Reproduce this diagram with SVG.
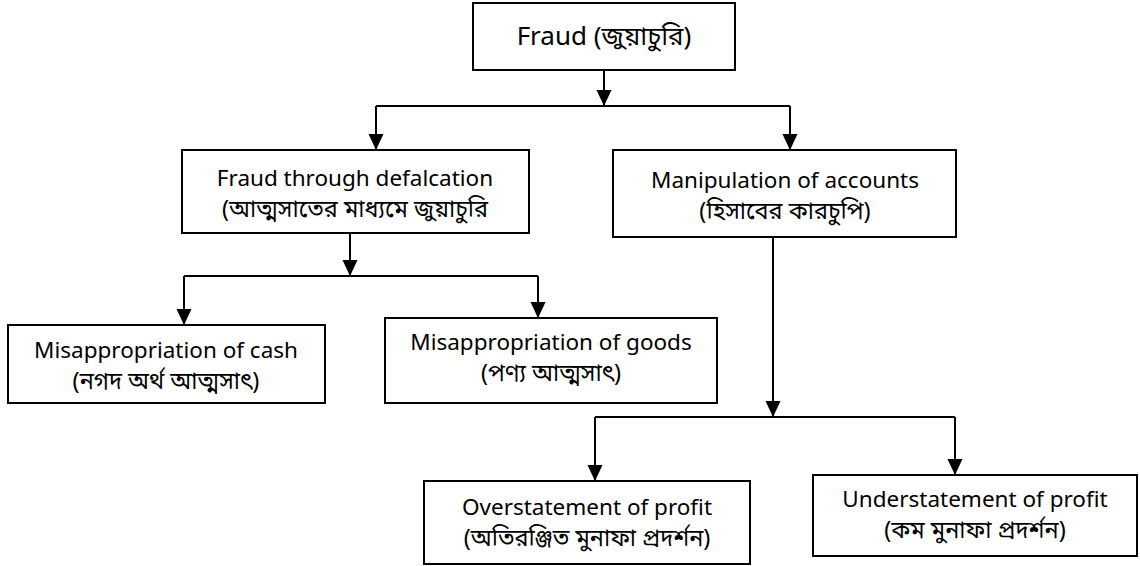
<svg xmlns="http://www.w3.org/2000/svg" width="1140" height="566" viewBox="0 0 1140 566">
<style>
.box{fill:#fff;stroke:#000;stroke-width:2}
.t{font-family:"Noto Sans","Noto Sans Bengali","Noto Serif Bengali","Lohit Bengali","FreeSans",sans-serif;font-size:22.5px;fill:#000;text-anchor:middle}
.bn{font-size:23.5px}
.big{font-size:26px}
.ln{fill:none;stroke:#000;stroke-width:2}
.arr{marker-end:url(#ah)}
</style>
<defs>
<marker id="ah" markerUnits="userSpaceOnUse" markerWidth="16" markerHeight="16" viewBox="0 0 17 16" refX="17" refY="8" orient="auto">
<path d="M0,0 L17,8 L0,16 Z" fill="#000"/>
</marker>
</defs>
<g id="connectors">
<path class="ln arr" d="M604,70 V106"/>
<path class="ln" d="M376,106 H790"/>
<path class="ln arr" d="M376,106 V150"/>
<path class="ln arr" d="M790,106 V150"/>
<path class="ln arr" d="M350,233 V276"/>
<path class="ln" d="M184,276 H538"/>
<path class="ln arr" d="M184,276 V325"/>
<path class="ln arr" d="M538,276 V318"/>
<path class="ln arr" d="M773,237 V417"/>
<path class="ln" d="M595,417 H955"/>
<path class="ln arr" d="M595,417 V481"/>
<path class="ln arr" d="M955,417 V475"/>
</g>
<g id="n-fraud">
<rect class="box" x="473" y="3" width="262" height="67"/>
<text class="t big" x="604" y="45">Fraud (জুয়াচুরি)</text>
</g>
<g id="n-defalcation">
<rect class="box" x="182" y="150" width="347" height="83"/>
<text class="t" x="355" y="186">Fraud through defalcation</text>
<text class="t bn" x="355" y="217">(আত্মসাতের মাধ্যমে জুয়াচুরি</text>
</g>
<g id="n-manipulation">
<rect class="box" x="613" y="150" width="343" height="87"/>
<text class="t" x="785" y="188">Manipulation of accounts</text>
<text class="t bn" x="785" y="219">(হিসাবের কারচুপি)</text>
</g>
<g id="n-cash">
<rect class="box" x="8" y="325" width="317" height="78"/>
<text class="t" x="166" y="358">Misappropriation of cash</text>
<text class="t bn" x="166" y="389">(নগদ অর্থ আত্মসাৎ)</text>
</g>
<g id="n-goods">
<rect class="box" x="385" y="318" width="332" height="85"/>
<text class="t" x="551" y="350">Misappropriation of goods</text>
<text class="t bn" x="551" y="381">(পণ্য আত্মসাৎ)</text>
</g>
<g id="n-over">
<rect class="box" x="424" y="481" width="326" height="83"/>
<text class="t" x="587" y="515">Overstatement of profit</text>
<text class="t bn" x="587" y="546">(অতিরঞ্জিত মুনাফা প্রদর্শন)</text>
</g>
<g id="n-under">
<rect class="box" x="813" y="475" width="324" height="81"/>
<text class="t" x="975" y="507">Understatement of profit</text>
<text class="t bn" x="975" y="538">(কম মুনাফা প্রদর্শন)</text>
</g>
</svg>
